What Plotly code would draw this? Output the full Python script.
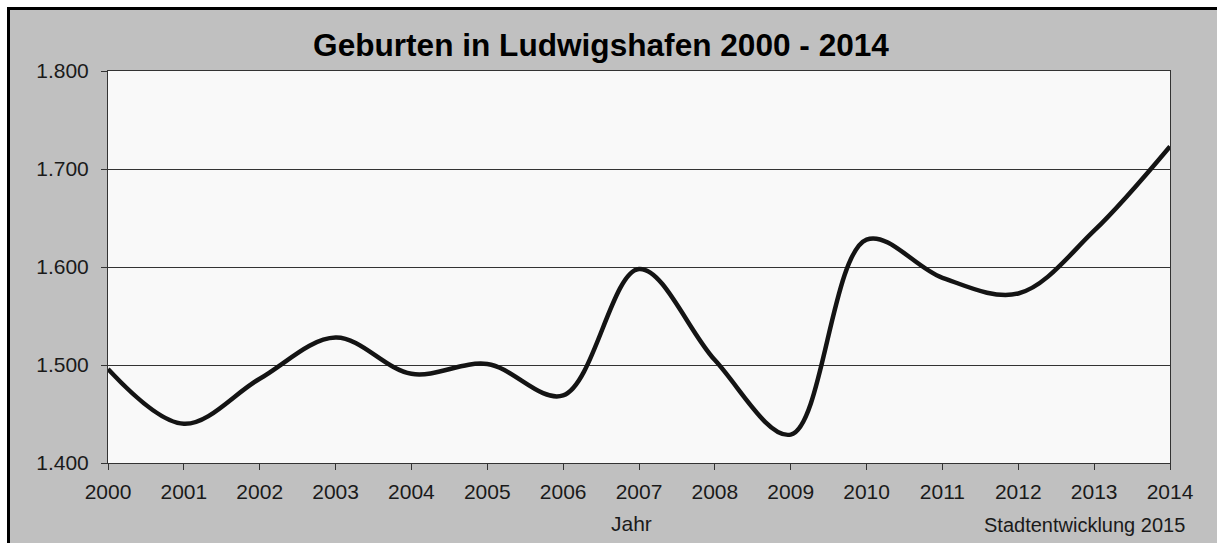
import plotly.graph_objects as go

years = list(range(2000, 2015))
births = [1496, 1440, 1486, 1528, 1491, 1501, 1469, 1598, 1505, 1429, 1628, 1589, 1573, 1637, 1723]
y_ticks = [1400, 1500, 1600, 1700, 1800]

W, H = 1217, 543
L, R, T, B = 108, 1170, 71, 463
pw, ph = R - L, B - T

def px_x(p):
    return (p - L) / pw

def px_y(p):
    return (B - p) / ph

fig = go.Figure()
fig.add_trace(go.Scatter(
    x=years, y=births, mode="lines",
    line=dict(color="#141414", width=4.5, shape="spline", smoothing=1.0),
    hoverinfo="x+y", showlegend=False,
))

font = "Liberation Sans, Arial, sans-serif"

fig.update_layout(
    width=W, height=H,
    margin=dict(l=L, r=W - R, t=T, b=H - B),
    paper_bgcolor="#c0c0c0",
    plot_bgcolor="#f9f9f9",
    separators=",.",
    font=dict(family=font, size=21, color="#1a1a1a"),
    title=dict(text="<b>Geburten in Ludwigshafen 2000 - 2014</b>",
               x=601 / W, xanchor="center", y=1 - 45 / H, yanchor="middle",
               font=dict(family=font, size=31.6, color="#000000")),
    xaxis=dict(range=[2000, 2014], tickmode="array", tickvals=years,
               ticktext=[str(y) for y in years],
               showgrid=False, zeroline=False,
               showline=True, linecolor="#333333", linewidth=1, mirror=True,
               ticks="outside", ticklen=6, tickcolor="#333333",
               ticklabelstandoff=4),
    yaxis=dict(range=[1400, 1800], tickmode="array", tickvals=y_ticks,
               tickformat=",d",
               showgrid=True, gridcolor="#333333", gridwidth=1, zeroline=False,
               showline=True, linecolor="#333333", linewidth=1, mirror=True,
               ticks="outside", ticklen=6, tickcolor="#333333",
               ticklabelstandoff=8),
    annotations=[
        dict(text="Jahr", xref="paper", yref="paper", x=px_x(631), y=px_y(523),
             xanchor="center", yanchor="middle", showarrow=False,
             font=dict(family=font, size=21, color="#1a1a1a")),
        dict(text="Stadtentwicklung 2015", xref="paper", yref="paper",
             x=px_x(1187), y=px_y(525), xanchor="right", yanchor="middle",
             showarrow=False, font=dict(family=font, size=20, color="#1a1a1a")),
    ],
    shapes=[
        dict(type="rect", xref="paper", yref="paper", x0=px_x(-20), x1=px_x(W + 20),
             y0=px_y(7), y1=px_y(-20), fillcolor="white", line=dict(width=0)),
        dict(type="rect", xref="paper", yref="paper", x0=px_x(-20), x1=px_x(7),
             y0=px_y(H + 20), y1=px_y(-20), fillcolor="white", line=dict(width=0)),
        dict(type="line", xref="paper", yref="paper", x0=px_x(8.5), x1=px_x(W + 20),
             y0=px_y(8.5), y1=px_y(8.5), line=dict(color="black", width=3)),
        dict(type="line", xref="paper", yref="paper", x0=px_x(8.5), x1=px_x(8.5),
             y0=px_y(7), y1=px_y(H + 20), line=dict(color="black", width=3)),
    ],
)

fig.write_html(
    "out.html",
    config={"displayModeBar": False},
    post_script="document.body.style.margin='0';document.body.style.overflow='hidden';",
)
